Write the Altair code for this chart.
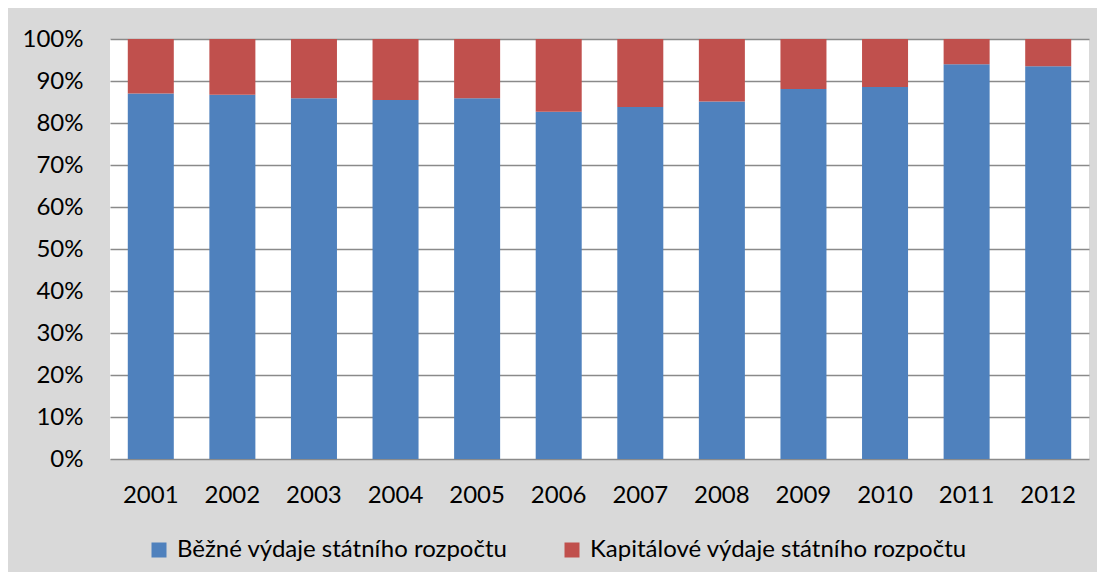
import altair as alt
import pandas as pd

years = ["2001", "2002", "2003", "2004", "2005", "2006", "2007", "2008", "2009", "2010", "2011", "2012"]
bezne = [87.0, 86.7, 85.9, 85.5, 85.9, 82.7, 83.8, 85.1, 88.1, 88.6, 94.0, 93.5]
kapitalove = [13.0, 13.3, 14.1, 14.5, 14.1, 17.3, 16.2, 14.9, 11.9, 11.4, 6.0, 6.5]
series = ["Běžné výdaje státního rozpočtu", "Kapitálové výdaje státního rozpočtu"]
colors = ["#4F81BD", "#C0504D"]
y_ticks = [0, 10, 20, 30, 40, 50, 60, 70, 80, 90, 100]

rows = []
for i, y in enumerate(years):
    rows.append({"rok": y, "serie": series[0], "hodnota": bezne[i], "poradi": 0})
    rows.append({"rok": y, "serie": series[1], "hodnota": kapitalove[i], "poradi": 1})
df = pd.DataFrame(rows)

FONT = "Lato"
FS = 24

chart = alt.Chart(df).mark_bar().encode(
    x=alt.X("rok:N", sort=years, title=None,
            scale=alt.Scale(paddingInner=0.436, paddingOuter=0.218),
            axis=alt.Axis(labelAngle=0, ticks=False, domain=False, labelPadding=24,
                          labelFontSize=FS, labelFont=FONT, labelColor="#000000")),
    y=alt.Y("hodnota:Q", stack=True, title=None,
            scale=alt.Scale(domain=[0, 100], nice=False),
            axis=alt.Axis(values=y_ticks, labelExpr="datum.value + '%'", ticks=False,
                          domain=False, grid=True, gridColor="#8a8a8a", gridWidth=1.3,
                          labelPadding=27, labelFontSize=FS, labelFont=FONT,
                          labelColor="#000000")),
    color=alt.Color("serie:N", sort=series,
                    scale=alt.Scale(domain=series, range=colors),
                    legend=alt.Legend(title=None, orient="none", direction="horizontal",
                                      legendX=37, legendY=499, symbolType="square",
                                      symbolSize=225, symbolStrokeWidth=0,
                                      labelFontSize=FS, labelFont=FONT, labelColor="#000000",
                                      labelLimit=600, labelOffset=6, columnPadding=52)),
    order=alt.Order("poradi:Q", sort="ascending"),
).properties(
    width=979,
    height=420,
    background="#D9D9D9",
    padding={"left": 102, "top": 31, "right": 8, "bottom": 113},
    autosize=alt.AutoSizeParams(type="none"),
).configure_view(
    fill="#FFFFFF",
    stroke=None,
)

chart.save("out.html", embed_options={"renderer": "svg", "actions": False})
